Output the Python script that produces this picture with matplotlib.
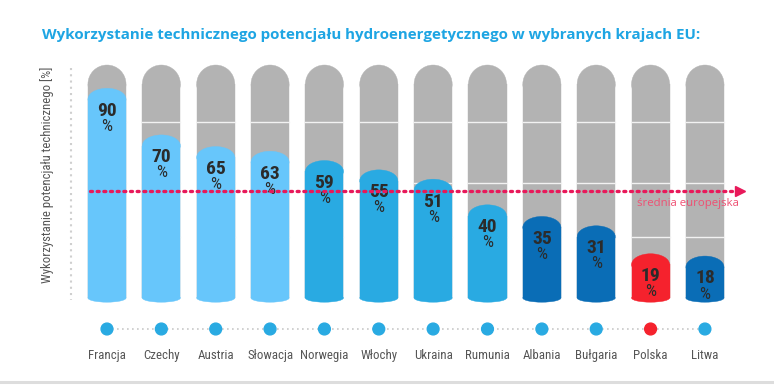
import matplotlib
matplotlib.use('Agg')
import matplotlib.pyplot as plt
from matplotlib import font_manager
from matplotlib.patches import Ellipse, Rectangle
from matplotlib.lines import Line2D

countries = ['Francja', 'Czechy', 'Austria', 'Słowacja', 'Norwegia', 'Włochy',
             'Ukraina', 'Rumunia', 'Albania', 'Bułgaria', 'Polska', 'Litwa']
values = [90, 70, 65, 63, 59, 55, 51, 40, 35, 31, 19, 18]
groups = ['light', 'light', 'light', 'light', 'mid', 'mid', 'mid', 'mid',
          'dark', 'dark', 'red', 'dark']
eu_average = 46
full_scale = 100
seam_levels = [75.5, 49.5, 26.2]

title = 'Wykorzystanie technicznego potencjału hydroenergetycznego w wybranych krajach EU:'
ylabel = 'Wykorzystanie potencjału technicznego [%]'
avg_label = 'średnia europejska'

colors = {'light': '#67c6fb', 'mid': '#29aae2', 'dark': '#0a6db6', 'red': '#f5222d'}
grey = '#b3b3b3'

# pick a narrow font if one is around
installed = {f.name for f in font_manager.fontManager.ttflist}
narrow_name = next((n for n in ['Liberation Sans Narrow', 'Roboto Condensed',
                                'Open Sans Condensed', 'DejaVu Sans']
                    if n in installed), 'DejaVu Sans')
narrow = dict(family=[narrow_name, 'DejaVu Sans'], fontstretch='condensed')

fig = plt.figure(figsize=(7.74, 3.9), dpi=100)
ax = fig.add_axes([71/774, 61/390, 689/774, 274/390])
ax.set_xlim(-0.662, 12.013)
ax.set_ylim(-13.3, 104.3)
ax.axis('off')

w = 0.7
grey_cap = 8.15
cap = 4.6
bot = 1.8

for i, (v, g) in enumerate(zip(values, groups)):
    ax.add_patch(Rectangle((i - w/2, 0), w, full_scale - grey_cap, fc=grey, ec=grey, lw=0.3, zorder=1))
    ax.add_patch(Ellipse((i, full_scale - grey_cap), w, 2*grey_cap, fc=grey, ec=grey, lw=0.3, zorder=1))
    for level in seam_levels:
        ax.plot([i - w/2, i + w/2], [level, level], color='#f2f2f2', lw=1.0, zorder=2)
    c = colors[g]
    ax.add_patch(Rectangle((i - w/2, 0), w, v - cap, fc=c, ec=c, lw=0.3, zorder=3))
    ax.add_patch(Ellipse((i, v - cap), w, 2*cap, fc=c, ec=c, lw=0.3, zorder=3))
    ax.add_patch(Ellipse((i, 0), w, 2*bot, fc=c, ec=c, lw=0.3, zorder=3, clip_on=False))
    ax.text(i, v - 9.6, str(v), ha='center', va='center', fontsize=14, fontweight='bold',
            color='#2b2b2b', zorder=5, **narrow)
    ax.text(i, v - 16.3, '%', ha='center', va='center', fontsize=12.5,
            color='#2b2b2b', zorder=5, **narrow)

# EU average line
ax.plot([-0.313, 11.55], [eu_average, eu_average], color='#e8195a', lw=2.4,
        linestyle=(0, (0.6, 1.4)), dash_capstyle='round', zorder=6)
ax.plot([11.65], [eu_average], marker='>', markersize=7, color='#e8195a', zorder=6)
ax.text(10.69, 40.6, avg_label, ha='center', va='center', fontsize=8.2,
        color='#ef4f72', family='Open Sans', zorder=6)

# left dotted axis line
ax.plot([-0.662, -0.662], [98.7, -0.9], color='#cfcfcf', lw=1.5,
        linestyle=(0, (1, 2)), clip_on=False)

# bottom row of dots with country names
xs = list(range(len(countries)))
dot_y = -13.3
ax.plot(xs, [dot_y] * len(xs), color='#c8c8c8', lw=1.2, linestyle=(0, (1, 2)),
        clip_on=False, zorder=1)
dot_colors = ['#f5222d' if g == 'red' else '#29aae2' for g in groups]
ax.scatter(xs, [dot_y] * len(xs), s=72, c=dot_colors, clip_on=False, zorder=3)
for i, name in enumerate(countries):
    ax.text(i, -24.5, name, ha='center', va='center', fontsize=9.3,
            color='#555555', **narrow)

fig.text(42/774, 1 - 35/390, title, fontsize=10.9, fontweight='bold', color='#1ea5e3',
         family='Open Sans', va='center', ha='left')
fig.text(47/774, 1 - 175/390, ylabel, rotation=90, fontsize=9.2, color='#555555',
         va='center', ha='center', **narrow)

fig.add_artist(Line2D([0, 1], [8/390, 8/390], transform=fig.transFigure,
                      color='#dddddd', lw=2.2))

fig.savefig('out.png', dpi=100)
